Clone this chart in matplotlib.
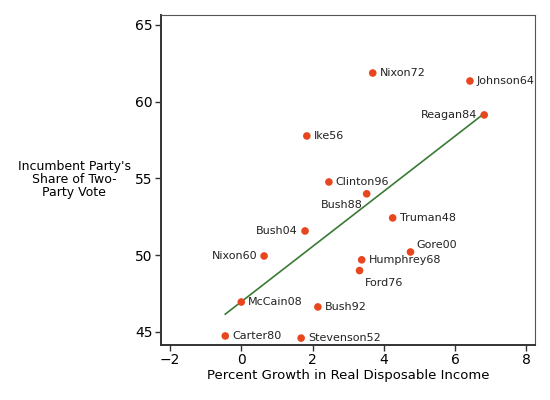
import numpy as np
import matplotlib
matplotlib.use("Agg")
import matplotlib.pyplot as plt

# incumbent party vote share vs growth in real disposable income
names = ["Nixon72", "Johnson64", "Reagan84", "Ike56", "Clinton96", "Bush88",
         "Truman48", "Bush04", "Gore00", "Nixon60", "Humphrey68", "Ford76",
         "McCain08", "Bush92", "Carter80", "Stevenson52"]
growth = [3.69, 6.42, 6.82, 1.84, 2.46, 3.52, 4.25, 1.79, 4.75, 0.64, 3.38,
          3.32, 0.00, 2.15, -0.45, 1.68]
vote = [61.87, 61.35, 59.14, 57.77, 54.77, 54.00, 52.43, 51.58, 50.21, 49.95,
        49.70, 49.00, 46.95, 46.63, 44.74, 44.60]

# where each label sits relative to its point (offset in points, ha, va)
label_pos = {
    "Reagan84": ((-5, 0), "right", "center"),
    "Bush88": ((-3, -8), "right", "center"),
    "Bush04": ((-5, 0), "right", "center"),
    "Nixon60": ((-5, 0), "right", "center"),
    "Gore00": ((4, 5), "left", "center"),
    "Ford76": ((4, -9), "left", "center"),
}

fig = plt.figure(figsize=(5.5, 4), dpi=100)
ax = fig.add_axes([0.293, 0.1375, 0.68, 0.825])

x = np.array(growth)
y = np.array(vote)
b, a = np.polyfit(x, y, 1)
xs = np.array([x.min(), x.max()])
ax.plot(xs, a + b * xs, color="#3a7a35", lw=1.2, zorder=1)

ax.scatter(x, y, s=30, color="#e8461e", zorder=2, edgecolors="none")

for nm, xi, yi in zip(names, growth, vote):
    off, ha, va = label_pos.get(nm, ((5, 0), "left", "center"))
    ax.annotate(nm, (xi, yi), xytext=off, textcoords="offset points",
                ha=ha, va=va, fontsize=8, color="#222222")

ax.set_xlim(-2.25, 8.25)
ax.set_ylim(44.15, 65.65)
ax.set_xticks([-2, 0, 2, 4, 6, 8])
ax.set_yticks([45, 50, 55, 60, 65])
ax.tick_params(axis="both", labelsize=10, length=4, width=1, color="#333333",
               top=False, right=False, pad=2)

for side in ["left", "bottom"]:
    ax.spines[side].set_linewidth(1.4)
    ax.spines[side].set_color("#333333")
for side in ["top", "right"]:
    ax.spines[side].set_linewidth(0.8)
    ax.spines[side].set_color("#555555")

ax.set_xlabel("Percent Growth in Real Disposable Income", fontsize=9.5,
              labelpad=1)
fig.text(0.135, 0.55, "Incumbent Party's\nShare of Two-\nParty Vote",
         ha="center", va="center", fontsize=9, linespacing=1.0)

fig.savefig("out.png", dpi=100)
